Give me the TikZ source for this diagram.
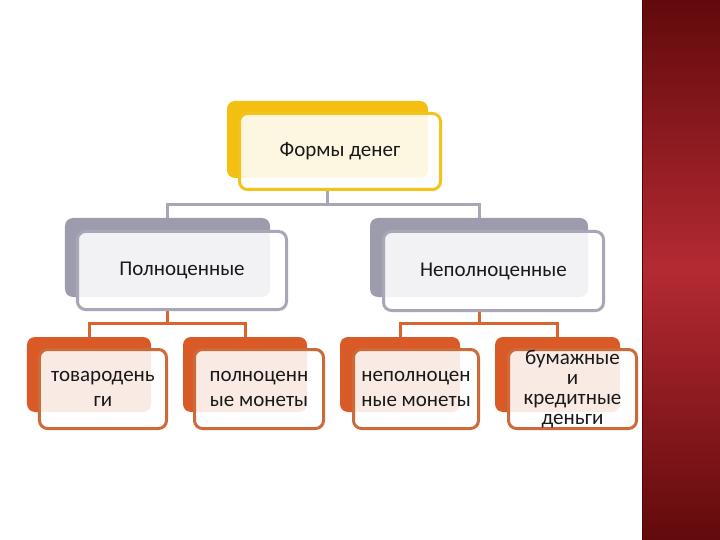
\documentclass[tikz,border=0pt]{standalone}
\usepackage{fontspec}
\setmainfont{Carlito}
\usetikzlibrary{backgrounds}
\definecolor{cY}{HTML}{F3C012}
\definecolor{cYb}{HTML}{F2C31A}
\definecolor{cG}{HTML}{9C9CAD}
\definecolor{cGb}{HTML}{A7A7B7}
\definecolor{cO}{HTML}{DA5A27}
\definecolor{cOb}{HTML}{CD6A3A}
\definecolor{cOl}{HTML}{D8642E}
\definecolor{rDark}{HTML}{620A0C}
\definecolor{rMid}{HTML}{B42A33}
\tikzset{
  backbox/.style={rounded corners=8bp, draw=none, inner sep=0pt},
  frontbox/.style={rounded corners=8bp, line width=3bp, fill=white, fill opacity=0.88, text opacity=1, draw opacity=1, inner sep=0pt, align=center, font=\fontsize{21bp}{25bp}\selectfont, text=black!90},
  conn/.style={line width=3bp},
}
\begin{document}
\begin{tikzpicture}[x=1bp, y=-1bp]
\useasboundingbox (0,0) rectangle (720,540);
% level 0
\node[backbox, fill=cY, minimum width=201bp, minimum height=77bp] (f0b) at (327.5,139.5) {};
\node[frontbox, draw=cYb, minimum width=201bp, minimum height=76bp] (f0) at (340,151.5) {Формы денег};
% level 1
\node[backbox, fill=cG, minimum width=205bp, minimum height=79bp] (p1b) at (167.5,257.5) {};
\node[frontbox, draw=cGb, minimum width=209bp, minimum height=78bp] (p1) at (182,270.5) {Полноценные};
\node[backbox, fill=cG, minimum width=218bp, minimum height=79bp] (p2b) at (479,257.5) {};
\node[frontbox, draw=cGb, minimum width=220bp, minimum height=79bp] (p2) at (493.5,271) {Неполноценные};
% level 2
\node[backbox, fill=cO, minimum width=124bp, minimum height=75bp] (a1b) at (89,374.5) {};
\node[frontbox, draw=cOb, minimum width=127bp, minimum height=79bp] (a1) at (103,389) {товародень\\ги};
\node[backbox, fill=cO, minimum width=124bp, minimum height=75bp] (a2b) at (245,374.5) {};
\node[frontbox, draw=cOb, minimum width=129bp, minimum height=79bp] (a2) at (259,389) {полноценн\\ые монеты};
\node[backbox, fill=cO, minimum width=120bp, minimum height=75bp] (a3b) at (400,374.5) {};
\node[frontbox, draw=cOb, minimum width=125bp, minimum height=79bp] (a3) at (416,389) {неполноцен\\ные монеты};
\node[backbox, fill=cO, minimum width=125bp, minimum height=75bp] (a4b) at (557.5,374.5) {};
\node[frontbox, draw=cOb, minimum width=128bp, minimum height=79bp, font=\fontsize{21bp}{20bp}\selectfont] (a4) at (572.5,389) {бумажные\\и\\кредитные\\деньги};
% background and connectors
\begin{scope}[on background layer]
\fill[white] (0,0) rectangle (720,540);
\shade[top color=rDark, bottom color=rDark, middle color=rMid] (642,0) rectangle (720,540);
\draw[line width=1bp, color=rDark!80!black] (642.5,0) -- (642.5,540);
\draw[conn, color=cGb] (f0b.south |- f0.south) -- ++(0,14) coordinate (j0) -| (p1b.north);
\draw[conn, color=cGb] (j0) -| (p2b.north);
\draw[conn, color=cOl] (p1b.south |- p1.south) -- ++(0,12) coordinate (j1) -| (a1b.north);
\draw[conn, color=cOl] (j1) -| (a2b.north);
\draw[conn, color=cOl] (p2b.south |- p2.south) -- ++(0,11) coordinate (j2) -| (a3b.north);
\draw[conn, color=cOl] (j2) -| (a4b.north);
\end{scope}
\end{tikzpicture}
\end{document}
